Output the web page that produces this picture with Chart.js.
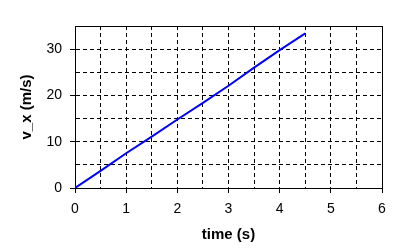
<!DOCTYPE html>
<html>
<head>
<meta charset="utf-8">
<title>v_x vs time</title>
<style>
    html, body { margin: 0; padding: 0; background: #fff; }
    canvas { display: block; }
</style>
</head>
<body>
<canvas id="myChart" width="399" height="252"></canvas>
<script src="https://cdn.jsdelivr.net/npm/chart.js"></script>
<script>
    // data
    const timeS = [0, 0.5, 1, 1.5, 2, 2.5, 3, 3.5, 4, 4.5];
    const velocity = [0, 3.7, 7.5, 11.1, 14.8, 18.4, 22.1, 26.0, 29.8, 33.4];
    const xTickLabels = [0, 1, 2, 3, 4, 5, 6];
    const yTickLabels = [0, 10, 20, 30];

    const fontFamily = "'Liberation Sans', Arial, sans-serif";

    // solid box round the plot area
    const frame = {
        id: 'frame',
        beforeDatasetsDraw(chart) {
            const { ctx, chartArea: a } = chart;
            ctx.save();
            ctx.strokeStyle = '#000';
            ctx.lineWidth = 1;
            ctx.setLineDash([]);
            ctx.strokeRect(Math.round(a.left) + 0.5, Math.round(a.top) + 0.5,
                Math.round(a.right - a.left), Math.round(a.bottom - a.top));
            ctx.restore();
        }
    };

    const ctx = document.getElementById('myChart');

    new Chart(ctx, {
        type: 'line',
        data: {
            datasets: [{
                data: timeS.map((t, i) => ({ x: t, y: velocity[i] })),
                borderColor: '#0000ff',
                borderWidth: 2,
                pointRadius: 0,
                fill: false,
                tension: 0
            }]
        },
        options: {
            responsive: false,
            animation: false,
            devicePixelRatio: 1,
            layout: { padding: { left: 0, top: 26, right: 17, bottom: 0 } },
            plugins: { legend: { display: false }, tooltip: { enabled: false } },
            scales: {
                x: {
                    type: 'linear',
                    min: 0,
                    max: 6,
                    afterFit: s => { s.height = 64; },
                    ticks: {
                        stepSize: 0.5,
                        autoSkip: false,
                        maxRotation: 0,
                        padding: 8,
                        color: '#000',
                        font: { family: fontFamily, size: 14 },
                        callback: v => xTickLabels.includes(v) ? String(v) : ''
                    },
                    grid: {
                        color: '#000',
                        lineWidth: 1,
                        tickLength: 5,
                        tickColor: c => xTickLabels.includes(c.tick.value) ? '#000' : 'rgba(0,0,0,0)'
                    },
                    border: { display: true, color: '#000', width: 1, dash: [4, 3] },
                    title: {
                        display: true,
                        text: 'time (s)',
                        color: '#000',
                        font: { family: fontFamily, size: 15, weight: 'bold' },
                        padding: { top: 0, bottom: 8 }
                    }
                },
                y: {
                    min: 0,
                    max: 35,
                    afterFit: s => { s.width = 75; },
                    ticks: {
                        stepSize: 5,
                        autoSkip: false,
                        padding: 8,
                        color: '#000',
                        font: { family: fontFamily, size: 14 },
                        callback: v => yTickLabels.includes(v) ? String(v) : ''
                    },
                    grid: {
                        color: '#000',
                        lineWidth: 1,
                        tickLength: 5,
                        tickColor: c => yTickLabels.includes(c.tick.value) ? '#000' : 'rgba(0,0,0,0)'
                    },
                    border: { display: true, color: '#000', width: 1, dash: [4, 3] },
                    title: {
                        display: true,
                        text: 'v_x (m/s)',
                        color: '#000',
                        font: { family: fontFamily, size: 15, weight: 'bold' },
                        padding: { top: 18, bottom: 0 }
                    }
                }
            }
        },
        plugins: [frame]
    });
</script>
</body>
</html>
